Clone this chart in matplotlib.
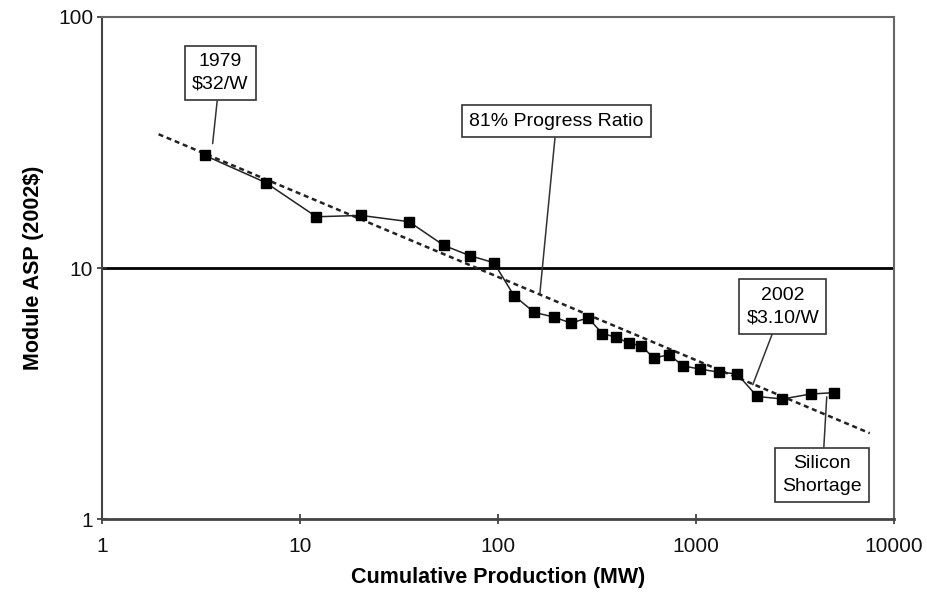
import numpy as np
import matplotlib
matplotlib.use("Agg")
from matplotlib import pyplot as plt
from matplotlib.ticker import FixedLocator, NullLocator

plt.rcParams['font.family'] = ['Liberation Sans', 'DejaVu Sans']

# cumulative production (MW) and module price (2002$/W)
cum_mw = [3.3, 6.7, 12.1, 20.3, 35.5, 53.4, 72.2, 95.5, 120.5, 152.7, 191.8, 233.9,
          285.7, 337.5, 394.5, 460, 531, 614, 733, 862, 1047, 1306, 1618,
          2042, 2743, 3800, 4990]
asp = [28.1, 21.9, 16.0, 16.2, 15.3, 12.3, 11.2, 10.5, 7.77, 6.66, 6.38, 6.04,
       6.33, 5.48, 5.31, 5.02, 4.90, 4.38, 4.52, 4.08, 3.96, 3.85, 3.79,
       3.08, 3.01, 3.15, 3.19]

# 81% progress ratio trend line end points
trend_x = [1.93, 7568]
trend_y = [34.1, 2.20]

x_ticks = [1, 10, 100, 1000, 10000]
y_ticks = [1, 10, 100]

fig = plt.figure(figsize=(9.28, 6.03), dpi=100)
ax = fig.add_axes([0.110, 0.139, 0.853, 0.833])
ax.set_xscale('log')
ax.set_yscale('log')
ax.set_xlim(1, 10000)
ax.set_ylim(1, 100)

ax.axhline(10, color='black', lw=2, zorder=1)
ax.plot(trend_x, trend_y, color='#222222', lw=1.8, ls=(0, (2, 1.5)), zorder=2)
ax.plot(cum_mw, asp, color='#222222', lw=1.1, marker='s', ms=6.5,
        mfc='black', mec='black', zorder=3)

ax.xaxis.set_major_locator(FixedLocator(x_ticks))
ax.yaxis.set_major_locator(FixedLocator(y_ticks))
ax.xaxis.set_minor_locator(NullLocator())
ax.yaxis.set_minor_locator(NullLocator())
ax.set_xticklabels([str(t) for t in x_ticks])
ax.set_yticklabels([str(t) for t in y_ticks])
ax.tick_params(direction='inout', length=7, width=1.2, colors='#333333',
               labelsize=15, labelcolor='#111111')
ax.tick_params(axis='x', pad=9)
ax.tick_params(axis='y', pad=3)

for s in ax.spines.values():
    s.set_color('#666666')
    s.set_linewidth(1.5)
ax.spines['left'].set_color('#444444')
ax.spines['bottom'].set_color('#444444')
ax.spines['bottom'].set_linewidth(2)

ax.set_xlabel('Cumulative Production (MW)', fontsize=15.5, fontweight='bold', labelpad=8)
ax.set_ylabel(r'Module ASP (2002\$)', fontsize=15.5, fontweight='bold', labelpad=10)

box = dict(boxstyle='square,pad=0.38', fc='white', ec='#333333', lw=1.2)
arrow = dict(arrowstyle='-', color='#333333', lw=1.1, shrinkA=0, shrinkB=0)

ax.annotate('1979\n' + r'\$32/W', xy=(3.62, 31.3), xytext=(3.95, 59.8),
            ha='center', va='center', fontsize=14, bbox=box, arrowprops=arrow,
            linespacing=1.45)
ax.annotate('81% Progress Ratio', xy=(163, 7.91), xytext=(198, 38.4),
            ha='center', va='center', fontsize=14, bbox=box, arrowprops=arrow)
ax.annotate('2002\n' + r'\$3.10/W', xy=(1941, 3.43), xytext=(2750, 7.02),
            ha='center', va='center', fontsize=14, bbox=box, arrowprops=arrow,
            linespacing=1.45)
ax.annotate('Silicon\nShortage', xy=(4590, 3.07), xytext=(4355, 1.50),
            ha='center', va='center', fontsize=14, bbox=box, arrowprops=arrow,
            linespacing=1.45)

fig.savefig('out.png', dpi=100)
